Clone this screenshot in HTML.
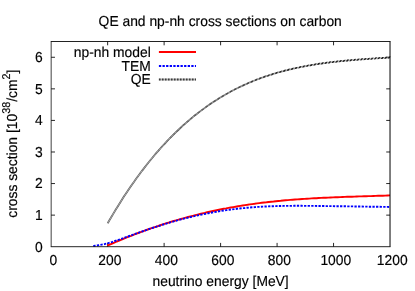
<!DOCTYPE html>
<html><head><meta charset="utf-8"><title>QE and np-nh cross sections on carbon</title>
<style>
html,body{margin:0;padding:0;background:#fff;}
body{width:415px;height:291px;overflow:hidden;}
svg{display:block;}
text{font-family:"Liberation Sans",sans-serif;font-size:13.85px;fill:#000;stroke:#000;stroke-width:0.15px;text-rendering:geometricPrecision;}
</style></head><body>
<svg width="415" height="291" viewBox="0 0 415 291">
<rect width="415" height="291" fill="#fff"/>
<path d="M51.17,215.13 h3.8 M390.03,215.13 h-3.8 M51.17,183.56 h3.8 M390.03,183.56 h-3.8 M51.17,151.99 h3.8 M390.03,151.99 h-3.8 M51.17,120.42 h3.8 M390.03,120.42 h-3.8 M51.17,88.85 h3.8 M390.03,88.85 h-3.8 M51.17,57.28 h3.8 M390.03,57.28 h-3.8 M107.65,246.7 v-3.8 M107.65,41.5 v3.8 M164.12,246.7 v-3.8 M164.12,41.5 v3.8 M220.60,246.7 v-3.8 M220.60,41.5 v3.8 M277.08,246.7 v-3.8 M277.08,41.5 v3.8 M333.55,246.7 v-3.8 M333.55,41.5 v3.8" stroke="#000" stroke-width="0.85" fill="none"/>
<defs><linearGradient id="g" gradientUnits="userSpaceOnUse" x1="175" y1="0" x2="390" y2="0"><stop offset="0" stop-color="#585858" stop-opacity="1"/><stop offset="0.35" stop-color="#7c7c7c" stop-opacity="0.8"/><stop offset="0.7" stop-color="#888" stop-opacity="0.6"/><stop offset="1" stop-color="#8c8c8c" stop-opacity="0.55"/></linearGradient><linearGradient id="h" gradientUnits="userSpaceOnUse" x1="150" y1="0" x2="290" y2="0"><stop offset="0" stop-color="#fff" stop-opacity="0.08"/><stop offset="1" stop-color="#fff" stop-opacity="1"/></linearGradient><linearGradient id="c" gradientUnits="userSpaceOnUse" x1="170" y1="0" x2="250" y2="0"><stop offset="0" stop-color="#d8d8d8" stop-opacity="0.95"/><stop offset="1" stop-color="#c4c4c4" stop-opacity="0"/></linearGradient><mask id="m" maskUnits="userSpaceOnUse" x="0" y="0" width="415" height="291"><rect x="0" y="0" width="415" height="291" fill="url(#h)"/></mask></defs>
<path d="M107.7,223.3 L109.7,219.8 L111.8,216.3 L113.8,212.9 L115.8,209.5 L117.9,206.2 L119.9,203.0 L121.9,199.8 L123.9,196.6 L126.0,193.5 L128.0,190.5 L130.0,187.5 L132.1,184.5 L134.1,181.7 L136.1,178.8 L138.2,176.0 L140.2,173.3 L142.2,170.6 L144.3,167.9 L146.3,165.3 L148.3,162.7 L150.3,160.2 L152.4,157.7 L154.4,155.3 L156.4,152.9 L158.5,150.6 L160.5,148.3 L162.5,146.0 L164.6,143.8 L166.6,141.6 L168.6,139.5 L170.7,137.4 L172.7,135.4 L174.7,133.4 L176.8,131.4 L178.8,129.5 L180.8,127.6 L182.8,125.7 L184.9,123.9 L186.9,122.1 L188.9,120.3 L191.0,118.6 L193.0,116.9 L195.0,115.3 L197.1,113.7 L199.1,112.1 L201.1,110.6 L203.2,109.1 L205.2,107.6 L207.2,106.1 L209.2,104.7 L211.3,103.3 L213.3,102.0 L215.3,100.7 L217.4,99.4 L219.4,98.1 L221.4,96.9 L223.5,95.7 L225.5,94.5 L227.5,93.4 L229.6,92.2 L231.6,91.1 L233.6,90.1 L235.6,89.0 L237.7,88.0 L239.7,87.0 L241.7,86.1 L243.8,85.1 L245.8,84.2 L247.8,83.3 L249.9,82.4 L251.9,81.6 L253.9,80.8 L256.0,79.9 L258.0,79.2 L260.0,78.4 L262.1,77.7 L264.1,76.9 L266.1,76.2 L268.1,75.6 L270.2,74.9 L272.2,74.3 L274.2,73.6 L276.3,73.0 L278.3,72.4 L280.3,71.9 L282.4,71.3 L284.4,70.8 L286.4,70.3 L288.5,69.8 L290.5,69.3 L292.5,68.8 L294.5,68.3 L296.6,67.9 L298.6,67.5 L300.6,67.0 L302.7,66.6 L304.7,66.3 L306.7,65.9 L308.8,65.5 L310.8,65.2 L312.8,64.8 L314.9,64.5 L316.9,64.2 L318.9,63.9 L320.9,63.6 L323.0,63.3 L325.0,63.0 L327.0,62.7 L329.1,62.5 L331.1,62.2 L333.1,62.0 L335.2,61.8 L337.2,61.5 L339.2,61.3 L341.3,61.1 L343.3,60.9 L345.3,60.7 L347.4,60.5 L349.4,60.3 L351.4,60.2 L353.4,60.0 L355.5,59.8 L357.5,59.7 L359.5,59.5 L361.6,59.3 L363.6,59.2 L365.6,59.1 L367.7,58.9 L369.7,58.8 L371.7,58.6 L373.8,58.5 L375.8,58.4 L377.8,58.2 L379.8,58.1 L381.9,58.0 L383.9,57.9 L385.9,57.8 L388.0,57.6 L390.0,57.5" fill="none" stroke="url(#g)" stroke-width="1.75"/>
<path d="M107.7,223.3 L109.7,219.8 L111.8,216.3 L113.8,212.9 L115.8,209.5 L117.9,206.2 L119.9,203.0 L121.9,199.8 L123.9,196.6 L126.0,193.5 L128.0,190.5 L130.0,187.5 L132.1,184.5 L134.1,181.7 L136.1,178.8 L138.2,176.0 L140.2,173.3 L142.2,170.6 L144.3,167.9 L146.3,165.3 L148.3,162.7 L150.3,160.2 L152.4,157.7 L154.4,155.3 L156.4,152.9 L158.5,150.6 L160.5,148.3 L162.5,146.0 L164.6,143.8 L166.6,141.6 L168.6,139.5 L170.7,137.4 L172.7,135.4 L174.7,133.4 L176.8,131.4 L178.8,129.5 L180.8,127.6 L182.8,125.7 L184.9,123.9 L186.9,122.1 L188.9,120.3 L191.0,118.6 L193.0,116.9 L195.0,115.3 L197.1,113.7 L199.1,112.1 L201.1,110.6 L203.2,109.1 L205.2,107.6 L207.2,106.1 L209.2,104.7 L211.3,103.3 L213.3,102.0 L215.3,100.7 L217.4,99.4 L219.4,98.1 L221.4,96.9 L223.5,95.7 L225.5,94.5 L227.5,93.4 L229.6,92.2 L231.6,91.1 L233.6,90.1 L235.6,89.0 L237.7,88.0 L239.7,87.0 L241.7,86.1 L243.8,85.1 L245.8,84.2 L247.8,83.3 L249.9,82.4 L251.9,81.6 L253.9,80.8 L256.0,79.9 L258.0,79.2 L260.0,78.4 L262.1,77.7 L264.1,76.9 L266.1,76.2 L268.1,75.6 L270.2,74.9 L272.2,74.3 L274.2,73.6 L276.3,73.0 L278.3,72.4 L280.3,71.9 L282.4,71.3 L284.4,70.8 L286.4,70.3 L288.5,69.8 L290.5,69.3 L292.5,68.8 L294.5,68.3 L296.6,67.9 L298.6,67.5 L300.6,67.0 L302.7,66.6 L304.7,66.3 L306.7,65.9 L308.8,65.5 L310.8,65.2 L312.8,64.8 L314.9,64.5 L316.9,64.2 L318.9,63.9 L320.9,63.6 L323.0,63.3 L325.0,63.0 L327.0,62.7 L329.1,62.5 L331.1,62.2 L333.1,62.0 L335.2,61.8 L337.2,61.5 L339.2,61.3 L341.3,61.1 L343.3,60.9 L345.3,60.7 L347.4,60.5 L349.4,60.3 L351.4,60.2 L353.4,60.0 L355.5,59.8 L357.5,59.7 L359.5,59.5 L361.6,59.3 L363.6,59.2 L365.6,59.1 L367.7,58.9 L369.7,58.8 L371.7,58.6 L373.8,58.5 L375.8,58.4 L377.8,58.2 L379.8,58.1 L381.9,58.0 L383.9,57.9 L385.9,57.8 L388.0,57.6 L390.0,57.5" fill="none" stroke="url(#c)" stroke-width="0.7"/>
<g mask="url(#m)"><path transform="skewX(-38.0)" d="M282.14,223.28 L281.42,219.76 L280.75,216.29 L280.11,212.88 L279.52,209.52 L278.97,206.22 L278.46,202.97 L277.99,199.77 L277.57,196.62 L277.18,193.53 L276.83,190.48 L276.52,187.49 L276.25,184.55 L276.02,181.65 L275.83,178.81 L275.68,176.01 L275.56,173.26 L275.48,170.56 L275.44,167.91 L275.43,165.30 L275.46,162.73 L275.52,160.22 L275.62,157.74 L275.76,155.32 L275.93,152.93 L276.13,150.59 L276.36,148.29 L276.63,146.04 L276.93,143.82 L277.27,141.65 L277.63,139.52 L278.03,137.43 L278.46,135.37 L278.91,133.36 L279.40,131.39 L279.92,129.45 L280.47,127.56 L281.05,125.70 L281.66,123.87 L282.29,122.09 L282.96,120.34 L283.65,118.62 L284.37,116.95 L285.11,115.30 L285.89,113.69 L286.69,112.12 L287.51,110.57 L288.36,109.06 L289.24,107.59 L290.14,106.14 L291.07,104.73 L292.02,103.35 L293.00,101.99 L293.99,100.67 L295.02,99.38 L296.06,98.12 L297.13,96.89 L298.22,95.68 L299.33,94.50 L300.46,93.36 L301.62,92.23 L302.79,91.14 L303.99,90.07 L305.21,89.03 L306.44,88.01 L307.70,87.02 L308.98,86.05 L310.27,85.11 L311.58,84.19 L312.92,83.30 L314.27,82.43 L315.63,81.58 L317.02,80.75 L318.42,79.95 L319.84,79.17 L321.28,78.40 L322.73,77.66 L324.20,76.94 L325.68,76.24 L327.18,75.56 L328.69,74.90 L330.22,74.26 L331.77,73.64 L333.32,73.03 L334.90,72.44 L336.48,71.87 L338.08,71.32 L339.69,70.78 L341.32,70.26 L342.95,69.76 L344.60,69.27 L346.26,68.79 L347.93,68.33 L349.62,67.89 L351.31,67.46 L353.02,67.04 L354.73,66.64 L356.46,66.25 L358.20,65.87 L359.94,65.51 L361.70,65.16 L363.46,64.82 L365.24,64.49 L367.02,64.17 L368.81,63.86 L370.61,63.57 L372.42,63.28 L374.23,63.00 L376.05,62.74 L377.88,62.48 L379.72,62.23 L381.56,61.99 L383.41,61.75 L385.27,61.53 L387.13,61.31 L389.00,61.10 L390.87,60.90 L392.75,60.71 L394.63,60.52 L396.52,60.33 L398.41,60.16 L400.31,59.98 L402.21,59.82 L404.11,59.65 L406.02,59.50 L407.93,59.34 L409.85,59.20 L411.76,59.05 L413.69,58.91 L415.61,58.77 L417.53,58.64 L419.46,58.50 L421.39,58.37 L423.32,58.25 L425.25,58.12 L427.19,58.00 L429.12,57.87 L431.06,57.75 L432.99,57.63 L434.93,57.51" fill="none" stroke="#1c1c1c" stroke-width="2.0" stroke-dasharray="1.8 1.5"/></g>
<path d="M107.3,245.7 L109.7,244.6 L112.1,243.6 L114.4,242.6 L116.8,241.5 L119.2,240.6 L121.6,239.6 L123.9,238.6 L126.3,237.6 L128.7,236.7 L131.1,235.8 L133.4,234.8 L135.8,233.9 L138.2,233.0 L140.6,232.1 L142.9,231.3 L145.3,230.4 L147.7,229.5 L150.1,228.7 L152.4,227.9 L154.8,227.1 L157.2,226.3 L159.6,225.5 L161.9,224.7 L164.3,223.9 L166.7,223.2 L169.1,222.5 L171.4,221.7 L173.8,221.0 L176.2,220.3 L178.6,219.6 L180.9,219.0 L183.3,218.3 L185.7,217.6 L188.1,217.0 L190.4,216.4 L192.8,215.8 L195.2,215.2 L197.6,214.6 L199.9,214.0 L202.3,213.4 L204.7,212.9 L207.1,212.3 L209.5,211.8 L211.8,211.3 L214.2,210.8 L216.6,210.3 L219.0,209.8 L221.3,209.3 L223.7,208.8 L226.1,208.4 L228.5,207.9 L230.8,207.5 L233.2,207.1 L235.6,206.7 L238.0,206.3 L240.3,205.9 L242.7,205.5 L245.1,205.1 L247.5,204.8 L249.8,204.4 L252.2,204.1 L254.6,203.8 L257.0,203.4 L259.3,203.1 L261.7,202.8 L264.1,202.5 L266.5,202.3 L268.8,202.0 L271.2,201.7 L273.6,201.5 L276.0,201.2 L278.3,201.0 L280.7,200.8 L283.1,200.5 L285.5,200.3 L287.8,200.1 L290.2,199.9 L292.6,199.7 L295.0,199.5 L297.4,199.4 L299.7,199.2 L302.1,199.0 L304.5,198.9 L306.9,198.7 L309.2,198.6 L311.6,198.4 L314.0,198.3 L316.4,198.2 L318.7,198.0 L321.1,197.9 L323.5,197.8 L325.9,197.7 L328.2,197.6 L330.6,197.5 L333.0,197.4 L335.4,197.3 L337.7,197.2 L340.1,197.1 L342.5,197.0 L344.9,196.9 L347.2,196.8 L349.6,196.7 L352.0,196.7 L354.4,196.6 L356.7,196.5 L359.1,196.4 L361.5,196.4 L363.9,196.3 L366.2,196.2 L368.6,196.1 L371.0,196.1 L373.4,196.0 L375.7,195.9 L378.1,195.8 L380.5,195.7 L382.9,195.7 L385.2,195.6 L387.6,195.5 L390.0,195.4" fill="none" stroke="#f00" stroke-width="1.9"/>
<path d="M93.3,246.0 L96.1,245.6 L98.9,245.1 L101.7,244.6 L104.5,244.1 L107.3,243.4 L109.9,242.6 L112.5,241.8 L115.1,240.9 L117.7,240.1 L120.3,239.2 L122.9,238.3 L125.5,237.4 L128.0,236.5 L130.6,235.6 L133.2,234.6 L135.8,233.7 L138.4,232.8 L141.0,231.9 L143.6,231.0 L146.2,230.1 L148.8,229.2 L151.4,228.3 L154.0,227.5 L156.6,226.6 L159.2,225.8 L161.8,225.0 L164.4,224.2 L167.0,223.4 L169.5,222.6 L172.1,221.9 L174.7,221.1 L177.3,220.4 L179.9,219.7 L182.5,219.0 L185.1,218.4 L187.7,217.7 L190.3,217.1 L192.9,216.5 L195.5,215.9 L198.1,215.3 L200.7,214.7 L203.3,214.2 L205.9,213.7 L208.4,213.2 L211.0,212.7 L213.6,212.2 L216.2,211.8 L218.8,211.3 L221.4,210.9 L224.0,210.5 L226.6,210.1 L229.2,209.8 L231.8,209.4 L234.4,209.1 L237.0,208.8 L239.6,208.5 L242.2,208.2 L244.8,208.0 L247.4,207.7 L249.9,207.5 L252.5,207.3 L255.1,207.1 L257.7,206.9 L260.3,206.8 L262.9,206.6 L265.5,206.5 L268.1,206.4 L270.7,206.3 L273.3,206.2 L275.9,206.1 L278.5,206.0 L281.1,206.0 L283.7,205.9 L286.3,205.9 L288.9,205.9 L291.4,205.9 L294.0,205.8 L296.6,205.8 L299.2,205.8 L301.8,205.8 L304.4,205.9 L307.0,205.9 L309.6,205.9 L312.2,205.9 L314.8,205.9 L317.4,206.0 L320.0,206.0 L322.6,206.0 L325.2,206.1 L327.8,206.1 L330.3,206.1 L332.9,206.1 L335.5,206.2 L338.1,206.2 L340.7,206.2 L343.3,206.3 L345.9,206.3 L348.5,206.4 L351.1,206.4 L353.7,206.4 L356.3,206.5 L358.9,206.5 L361.5,206.5 L364.1,206.6 L366.7,206.6 L369.3,206.7 L371.8,206.7 L374.4,206.7 L377.0,206.8 L379.6,206.8 L382.2,206.9 L384.8,206.9 L387.4,206.9 L390.0,207.0" fill="none" stroke="#00f" stroke-width="1.9" stroke-dasharray="2.3 1.3"/>
<path d="M158.9,52 H196" stroke="#f00" stroke-width="1.9" fill="none"/>
<path d="M158.9,66 H196" stroke="#00f" stroke-width="1.9" stroke-dasharray="2.3 1.3" fill="none"/>
<path d="M158.9,79.5 H196" stroke="#bdbdbd" stroke-width="1.9" fill="none"/>
<path d="M158.9,79.5 H196" stroke="#3c3c3c" stroke-width="1.9" stroke-dasharray="1.7 1.3" fill="none"/>
<path d="M50.77,41.5 H390.53" stroke="#000" stroke-width="0.87" fill="none"/>
<path d="M50.77,246.7 H390.53" stroke="#000" stroke-width="0.86" fill="none"/>
<path d="M51.17,41.5 V246.7" stroke="#000" stroke-width="0.75" fill="none"/>
<path d="M390.03,41.5 V246.7" stroke="#000" stroke-width="1.0" fill="none"/>
<g style="filter:grayscale(1)">
<text transform="translate(42.70,251.55) scale(1,1.045)" text-anchor="end">0</text>
<text transform="translate(42.70,219.98) scale(1,1.045)" text-anchor="end">1</text>
<text transform="translate(42.70,188.41) scale(1,1.045)" text-anchor="end">2</text>
<text transform="translate(42.70,156.84) scale(1,1.045)" text-anchor="end">3</text>
<text transform="translate(42.70,125.27) scale(1,1.045)" text-anchor="end">4</text>
<text transform="translate(42.70,93.70) scale(1,1.045)" text-anchor="end">5</text>
<text transform="translate(42.70,62.13) scale(1,1.045)" text-anchor="end">6</text>
<text transform="translate(53.42,265.30) scale(1,1.045)" text-anchor="middle">0</text>
<text transform="translate(109.90,265.30) scale(1,1.045)" text-anchor="middle">200</text>
<text transform="translate(166.37,265.30) scale(1,1.045)" text-anchor="middle">400</text>
<text transform="translate(222.85,265.30) scale(1,1.045)" text-anchor="middle">600</text>
<text transform="translate(279.33,265.30) scale(1,1.045)" text-anchor="middle">800</text>
<text transform="translate(335.80,265.30) scale(1,1.045)" text-anchor="middle">1000</text>
<text transform="translate(392.28,265.30) scale(1,1.045)" text-anchor="middle">1200</text>
<text transform="translate(220.20,25.60) scale(1,1.045)" text-anchor="middle">QE and np-nh cross sections on carbon</text>
<text transform="translate(220.60,285.70) scale(1,1.045)" text-anchor="middle">neutrino energy [MeV]</text>
<text transform="translate(17.20,143.70) rotate(-90) scale(1,1.045)" text-anchor="middle">cross section [10<tspan font-size="10.80" dy="-7.1">38</tspan><tspan dy="7.1">/cm</tspan><tspan font-size="10.80" dy="-7.1">2</tspan><tspan dy="7.1">]</tspan></text>
<text transform="translate(150.80,56.80) scale(1,1.045)" text-anchor="end">np-nh model</text>
<text transform="translate(150.80,70.80) scale(1,1.045)" text-anchor="end">TEM</text>
<text transform="translate(150.80,84.40) scale(1,1.045)" text-anchor="end">QE</text>
</g>
</svg></body></html>
